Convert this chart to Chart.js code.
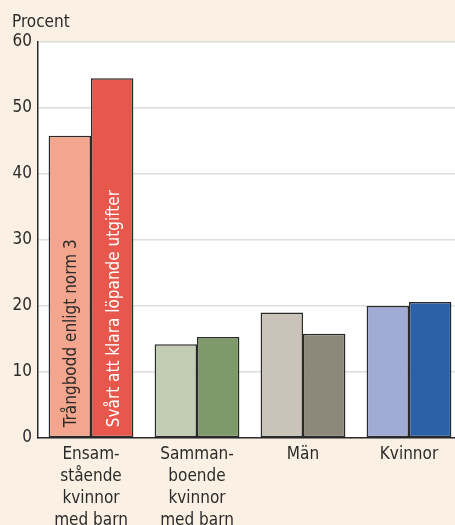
<!DOCTYPE html>
<html>
<head>
<meta charset="utf-8">
<title>Trångboddhet och ekonomi</title>
<script src="https://cdn.jsdelivr.net/npm/chart.js@4.4.1/dist/chart.umd.min.js"></script>
<style>
  html, body { margin: 0; padding: 0; overflow: hidden; background: #faf1e4; }
  #wrap { width: 462px; height: 525px; }
</style>
</head>
<body>
<div id="wrap"><canvas id="chart"></canvas></div>
<script>
// data
var kategorier = [
    ['Ensam-', 'stående', 'kvinnor', 'med barn'],
    ['Samman-', 'boende', 'kvinnor', 'med barn'],
    'Män',
    'Kvinnor'
];
var trangbodd = [45.8, 14.2, 19.0, 20.0];
var svartUtgifter = [54.5, 15.3, 15.8, 20.6];
var serieNamn = ['Trångbodd enligt norm 3', 'Svårt att klara löpande utgifter'];
var yTicks = [0, 10, 20, 30, 40, 50, 60];

var ljusa = ['#f4a58d', '#c3cdb4', '#cac3b9', '#a1acd5'];
var morka = ['#e8574b', '#7e9a6b', '#8e887a', '#2c61a7'];
var FONT = 'DejaVu Sans Condensed';
var TEXT = '#2b2b2b';

// beige canvas, white plot area
var bakgrund = {
    id: 'bakgrund',
    beforeDraw: function (chart) {
        var ctx = chart.ctx, a = chart.chartArea;
        ctx.save();
        ctx.fillStyle = '#faf1e4';
        ctx.fillRect(0, 0, chart.width, chart.height);
        ctx.fillStyle = '#ffffff';
        ctx.fillRect(a.left, a.top, a.right - a.left, a.bottom - a.top);
        ctx.restore();
    }
};

// series names written vertically inside the first group of bars
var stapelText = {
    id: 'stapelText',
    afterDatasetsDraw: function (chart) {
        var ctx = chart.ctx;
        ctx.save();
        ctx.font = '17px "' + FONT + '"';
        ctx.textAlign = 'left';
        ctx.textBaseline = 'middle';
        chart.data.datasets.forEach(function (ds, i) {
            var bar = chart.getDatasetMeta(i).data[0];
            ctx.save();
            ctx.translate(bar.x + 2, bar.base - 10);
            ctx.rotate(-Math.PI / 2);
            ctx.fillStyle = i === 0 ? TEXT : '#ffffff';
            ctx.fillText(ds.label, 0, 0);
            ctx.restore();
        });
        // y axis unit
        ctx.fillStyle = TEXT;
        ctx.textBaseline = 'alphabetic';
        ctx.fillText('Procent', 12, 27);
        ctx.restore();
    }
};

new Chart(document.getElementById('chart'), {
    type: 'bar',
    data: {
        labels: kategorier,
        datasets: [{
            label: serieNamn[0],
            data: trangbodd,
            backgroundColor: ljusa,
            borderColor: '#2a2a2a',
            borderWidth: 1.5,
            borderSkipped: false
        }, {
            label: serieNamn[1],
            data: svartUtgifter,
            backgroundColor: morka,
            borderColor: '#2a2a2a',
            borderWidth: 1.5,
            borderSkipped: false
        }]
    },
    options: {
        responsive: true,
        maintainAspectRatio: false,
        animation: false,
        layout: { padding: { top: 42, left: 0, right: 0, bottom: 0 } },
        datasets: { bar: { categoryPercentage: 0.8, barPercentage: 1.0 } },
        plugins: {
            legend: { display: false },
            tooltip: { enabled: false }
        },
        scales: {
            x: {
                grid: { display: false, drawTicks: false },
                border: { color: '#2a2a2a', width: 1.5 },
                ticks: {
                    color: TEXT,
                    padding: 6,
                    maxRotation: 0,
                    font: { family: FONT, size: 17, lineHeight: 22 / 17 }
                },
                afterFit: function (s) { s.height = 87; }
            },
            y: {
                min: 0,
                max: 60,
                afterBuildTicks: function (s) {
                    s.ticks = yTicks.map(function (v) { return { value: v }; });
                },
                grid: { color: '#dedede', lineWidth: 1.5, drawTicks: false },
                border: { color: '#2a2a2a', width: 1.5 },
                ticks: {
                    color: TEXT,
                    padding: 6,
                    font: { family: FONT, size: 17 }
                },
                afterFit: function (s) { s.width = 38; }
            }
        }
    },
    plugins: [bakgrund, stapelText]
});
</script>
</body>
</html>
